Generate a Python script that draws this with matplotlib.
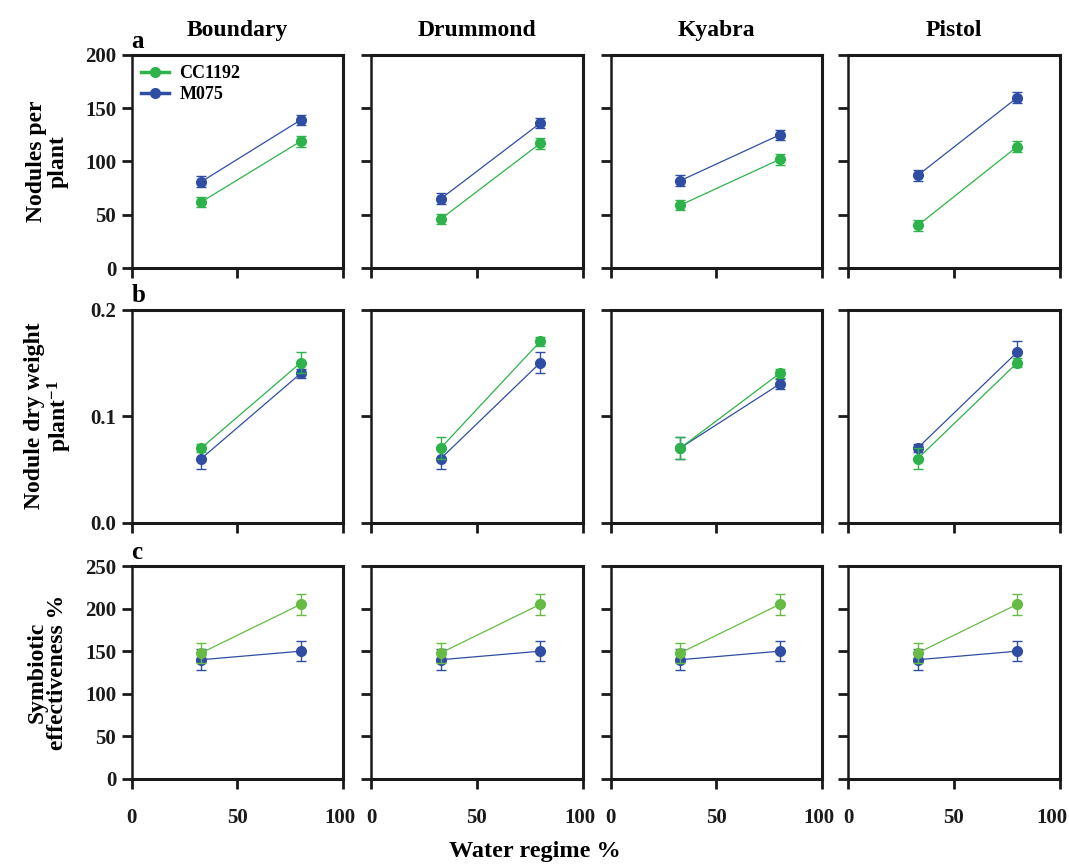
import numpy as np
import matplotlib
matplotlib.use('Agg')
from matplotlib import pyplot as plt
from matplotlib.lines import Line2D
from matplotlib.transforms import ScaledTranslation

plt.rcParams['font.family'] = ['Liberation Serif', 'DejaVu Serif']
plt.rcParams['font.weight'] = 'bold'
plt.rcParams['mathtext.fontset'] = 'custom'
plt.rcParams['mathtext.rm'] = 'Liberation Serif:bold'
plt.rcParams['mathtext.bf'] = 'Liberation Serif:bold'
plt.rcParams['mathtext.default'] = 'bf'

cultivars = ['Boundary', 'Drummond', 'Kyabra', 'Pistol']
strains = ['CC1192', 'M075']
water = [33, 80]

# a: nodules per plant
nod_cc = [[62, 119], [46, 117], [59, 102], [40, 114]]
nod_m = [[81, 139], [65, 136], [82, 125], [87, 160]]
nod_cc_err = [[5, 5], [5, 5], [5, 5], [5, 5]]
nod_m_err = [[5, 5], [5, 5], [5, 5], [5, 5]]

# b: nodule dry weight per plant
dw_cc = [[0.07, 0.15], [0.07, 0.17], [0.07, 0.14], [0.06, 0.15]]
dw_m = [[0.06, 0.14], [0.06, 0.15], [0.07, 0.13], [0.07, 0.16]]
dw_cc_err = [[0.004, 0.01], [0.01, 0.004], [0.01, 0.004], [0.01, 0.004]]
dw_m_err = [[0.01, 0.004], [0.01, 0.01], [0.01, 0.005], [0.004, 0.01]]

# c: symbiotic effectiveness
se_cc = [[148, 205], [148, 205], [148, 205], [148, 205]]
se_m = [[140, 150], [140, 150], [140, 150], [140, 150]]
se_cc_err = [[12, 12], [12, 12], [12, 12], [12, 12]]
se_m_err = [[12, 12], [12, 12], [12, 12], [12, 12]]

rows = [
    dict(cc=nod_cc, m=nod_m, cce=nod_cc_err, me=nod_m_err, ylim=200, ticks=[0, 50, 100, 150, 200],
         fmt='{:.0f}', label='Nodules per\nplant', letter='a', green='#2db34a'),
    dict(cc=dw_cc, m=dw_m, cce=dw_cc_err, me=dw_m_err, ylim=0.2, ticks=[0.0, 0.1, 0.2],
         fmt='{:.1f}', label='Nodule dry weight\nplant$^{-1}$', letter='b', green='#2db34a'),
    dict(cc=se_cc, m=se_m, cce=se_cc_err, me=se_m_err, ylim=250, ticks=[0, 50, 100, 150, 200, 250],
         fmt='{:.0f}', label='Symbiotic\neffectiveness %', letter='c', green='#66bb44'),
]
blue = '#2f4ea3'

W, H = 1069, 864
fig = plt.figure(figsize=(W / 100, H / 100), dpi=100)

col_left = [131.5, 371, 610.5, 848]
col_w = 211.5
row_top = [55, 309.5, 566]
row_h = 213

for r, row in enumerate(rows):
    for c, name in enumerate(cultivars):
        x0 = col_left[c]
        y0 = row_top[r] + row_h
        ax = fig.add_axes([x0 / W, 1 - y0 / H, col_w / W, row_h / H])
        ax.errorbar(water, row['m'][c], yerr=row['me'][c], color=blue, marker='o', ms=7,
                    lw=0.9, elinewidth=1.0, capsize=3.5, capthick=1.0,
                    clip_on=False, zorder=3)
        ax.errorbar(water, row['cc'][c], yerr=row['cce'][c], color=row['green'], marker='o', ms=7,
                    lw=0.9, elinewidth=1.0, capsize=3.5, capthick=1.0,
                    clip_on=False, zorder=4)
        ax.set_xlim(0, 100)
        ax.set_ylim(0, row['ylim'])
        ax.set_xticks([0, 50, 100])
        ax.set_yticks(row['ticks'])
        for s in ax.spines.values():
            s.set_linewidth(2.2)
            s.set_color('#1a1a1a')
        ax.spines['left'].set_linewidth(1.8)
        ax.tick_params(direction='out', length=7, width=2, labelsize=15, pad=4, colors='#1a1a1a')
        if c == 0:
            ax.set_yticklabels([row['fmt'].format(t) for t in row['ticks']], fontweight='bold')
            ax.set_ylabel(row['label'], fontsize=17, fontweight='bold', labelpad=12,
                          linespacing=1.0)
        else:
            ax.set_yticklabels([])
        if r == 2:
            labs = ax.set_xticklabels(['0', '50', '100'], fontweight='bold')
            ax.tick_params(axis='x', pad=14)
            ax.axhline(0, color='#999999', lw=0.8, ls=(0, (1, 2)), zorder=1)
            shift = -8 if c == 3 else -3
            labs[2].set_transform(labs[2].get_transform() +
                                  ScaledTranslation(shift / 100, 0, fig.dpi_scale_trans))
        else:
            ax.set_xticklabels([])
        if r == 0:
            ax.set_title(name, fontsize=17, fontweight='bold', pad=14)
        if c == 0:
            ax.text(0.0, 1.01, row['letter'], transform=ax.transAxes, fontsize=18,
                    fontweight='bold', ha='left', va='bottom')
        if r == 0 and c == 0:
            handles = [Line2D([], [], color=row['green'], marker='o', ms=7, lw=2.5),
                       Line2D([], [], color=blue, marker='o', ms=7, lw=2.5)]
            ax.legend(handles, strains, loc='upper left', frameon=False,
                      fontsize=13, handlelength=1.5, borderaxespad=0.15,
                      labelspacing=0.25, handletextpad=0.6)

fig.text(0.5, 1 - 852 / H, 'Water regime %', ha='center', va='center', fontsize=17.5,
         fontweight='bold')

fig.savefig('out.png', dpi=100)
